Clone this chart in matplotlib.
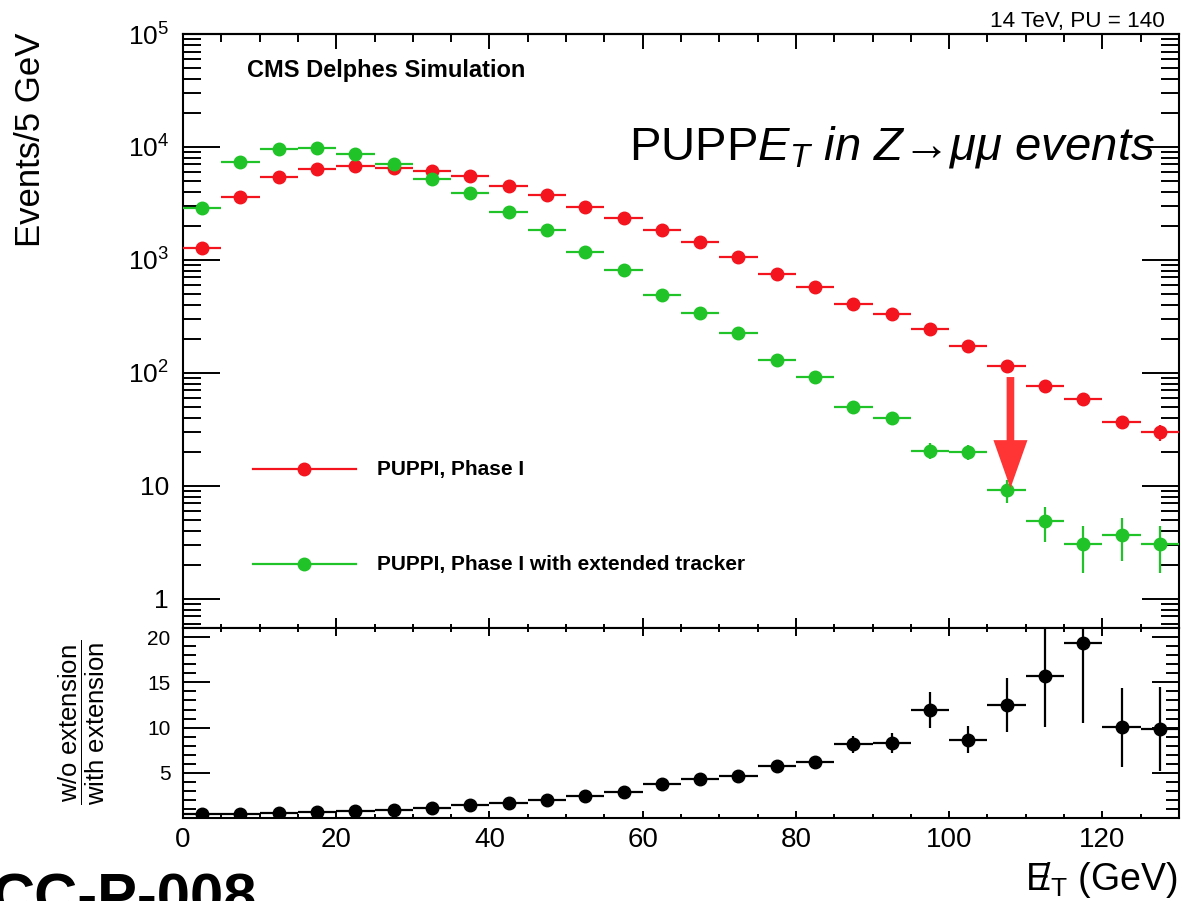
import numpy as np
import matplotlib
matplotlib.use("Agg")
import matplotlib.pyplot as plt
from matplotlib.ticker import FixedLocator, MultipleLocator, FuncFormatter, LogLocator, NullFormatter

plt.rcParams['font.family'] = ['Liberation Sans', 'DejaVu Sans']
plt.rcParams['mathtext.fontset'] = 'custom'
plt.rcParams['mathtext.rm'] = 'Liberation Sans'
plt.rcParams['mathtext.it'] = 'Liberation Sans:italic'
plt.rcParams['mathtext.bf'] = 'Liberation Sans:bold'
plt.rcParams['mathtext.sf'] = 'Liberation Sans'

# Binning of missing transverse energy (GeV)
bin_edges = np.arange(0, 135, 5)
bin_centers = 0.5 * (bin_edges[:-1] + bin_edges[1:])
half_width = 2.5

# Events per 5 GeV bin
phase1 = [1277, 3611, 5430, 6383, 6790, 6516, 6130, 5535, 4519, 3760, 2944, 2353, 1842,
          1443, 1063, 752, 577, 408, 333, 245, 173, 115, 76.7, 58.9, 36.8, 30.0]
phase1_err = [30, 50, 62, 67, 69, 68, 66, 62, 56, 51, 45, 40, 36,
              32, 27, 23, 20, 17, 15, 13, 11, 9, 7.5, 6.5, 5.0, 4.8]
extended = [2884, 7365, 9600, 9800, 8670, 7073, 5210, 3918, 2660, 1842, 1177, 816, 490,
            337, 227, 129.5, 92.7, 50, 40, 20.5, 20.0, 9.2, 4.87, 3.05, 3.66, 3.05]
extended_err = [45, 72, 82, 83, 78, 70, 60, 52, 43, 36, 29, 24, 18,
                15, 12, 9, 7.5, 5.5, 5.0, 3.3, 3.2, 2.1, 1.7, 1.35, 1.5, 1.35]

labels = ["PUPPI, Phase I", "PUPPI, Phase I with extended tracker"]

red = '#f3141e'
green = '#20c428'
arrow_color = '#ff3535'

p1 = np.array(phase1)
p1e = np.array(phase1_err)
ex = np.array(extended)
exe = np.array(extended_err)
ratio = p1 / ex
ratio_err = ratio * np.sqrt((p1e / p1) ** 2 + (exe / ex) ** 2)

W, H = 1182, 901
fig = plt.figure(figsize=(W / 100, H / 100), dpi=100)
x0, x1 = 183, 1179
ax = fig.add_axes([x0 / W, 1 - 628 / H, (x1 - x0) / W, (628 - 34) / H])
axr = fig.add_axes([x0 / W, 1 - 818.3 / H, (x1 - x0) / W, (818.3 - 628) / H], sharex=ax)

mk = dict(fmt='o', markersize=9, elinewidth=1.6, capsize=0, linestyle='none')
ax.errorbar(bin_centers, phase1, xerr=half_width, yerr=phase1_err, color=red, zorder=3, **mk)
ax.errorbar(bin_centers, extended, xerr=half_width, yerr=extended_err, color=green, zorder=4, **mk)

ax.set_yscale('log')
ax.set_xlim(0, 130)
ax.set_ylim(0.553, 1e5)

def log_label(v, pos):
    if v < 1.5:
        return '1'
    if v < 15:
        return '10'
    return r'$10^{%d}$' % int(round(np.log10(v)))

ax.yaxis.set_major_locator(FixedLocator([1, 10, 100, 1e3, 1e4, 1e5]))
ax.yaxis.set_major_formatter(FuncFormatter(log_label))
ax.yaxis.set_minor_locator(LogLocator(base=10, subs=np.arange(2, 10), numticks=20))
ax.yaxis.set_minor_formatter(NullFormatter())
ax.xaxis.set_major_locator(MultipleLocator(20))
ax.xaxis.set_minor_locator(MultipleLocator(5))

lw_spine = 1.5
for a in (ax, axr):
    for s in a.spines.values():
        s.set_linewidth(lw_spine)

ax.tick_params(axis='y', which='major', direction='in', length=26.5, width=1.4,
               left=True, right=True, labelsize=19, pad=10)
ax.tick_params(axis='y', which='minor', direction='in', length=13, width=1.4,
               left=True, right=True)
ax.tick_params(axis='x', which='major', direction='in', length=7, width=1.4,
               bottom=True, top=False, labelbottom=False)
ax.tick_params(axis='x', which='minor', direction='in', length=3, width=1.4,
               bottom=True, top=False)

top = ax.secondary_xaxis('top')
top.xaxis.set_major_locator(MultipleLocator(20))
top.xaxis.set_minor_locator(MultipleLocator(5))
top.tick_params(axis='x', which='major', direction='in', length=11, width=1.4, labeltop=False)
top.tick_params(axis='x', which='minor', direction='in', length=5.8, width=1.4)
top.spines['top'].set_linewidth(lw_spine)

# Ratio panel
axr.errorbar(bin_centers, ratio, xerr=half_width, yerr=ratio_err, color='black', zorder=3, **mk)
axr.set_ylim(0, 21)
axr.yaxis.set_major_locator(FixedLocator([5, 10, 15, 20]))
axr.yaxis.set_minor_locator(MultipleLocator(1))
axr.tick_params(axis='y', which='major', direction='in', length=19.5, width=1.4,
                left=True, right=True, labelsize=15, pad=9)
axr.tick_params(axis='y', which='minor', direction='in', length=9.4, width=1.4,
                left=True, right=True)
axr.tick_params(axis='x', which='major', direction='in', length=5.4, width=1.4,
                bottom=True, top=True, labelsize=20, pad=6)
axr.tick_params(axis='x', which='minor', direction='in', length=3.2, width=1.4,
                bottom=True, top=True)

# Arrow highlighting the drop at 107.5 GeV
ax.annotate('', xy=(108, 9.55), xytext=(108, 92),
            arrowprops=dict(arrowstyle='simple,head_length=3.46,head_width=2.45,tail_width=0.55',
                            mutation_scale=10, color=arrow_color, shrinkA=0, shrinkB=0, lw=0),
            zorder=5)

# Legend entries drawn in axes coordinates
for yl, c, lab in ((0.2672, red, labels[0]), (0.1077, green, labels[1])):
    ax.plot([0.070, 0.1734], [yl, yl], color=c, lw=1.6, transform=ax.transAxes, clip_on=False)
    ax.plot([0.1215], [yl], 'o', color=c, markersize=9, transform=ax.transAxes, clip_on=False)
    ax.text(0.1945, yl, lab, transform=ax.transAxes, ha='left', va='center',
            fontsize=15, fontweight='bold')

ax.text(0.0643, 0.939, 'CMS Delphes Simulation', transform=ax.transAxes,
        ha='left', va='center', fontsize=17, fontweight='bold')
ax.text(0.976, 0.788, r'PUPP$E_{T}\ in\ Z$' + '\u2192' + r'$\mu\mu\ events$',
        transform=ax.transAxes, ha='right', va='baseline', fontsize=34)

fig.text(1165 / W, 1 - 27.3 / H, '14 TeV, PU = 140', ha='right', va='baseline', fontsize=16.2)

fig.text(31 / W, 1 - 33 / H, 'Events/5 GeV', rotation=90, ha='center', va='top', fontsize=25)
fig.text(82 / W, 1 - 722 / H,
         r'$\dfrac{\mathrm{w/o\ extension}}{\mathrm{with\ extension}}$',
         rotation=90, ha='center', va='center', fontsize=18.5)

fig.text(1178 / W, 1 - 880 / H, r'$\mathrm{E}\!\!/_{\mathrm{T}}$ (GeV)',
         ha='right', va='center', fontsize=27)

fig.text(-8 / W, 1 - 915 / H, 'CC-P-008', ha='left', va='baseline',
         fontsize=43, fontweight='bold')

fig.savefig('out.png', dpi=100)
